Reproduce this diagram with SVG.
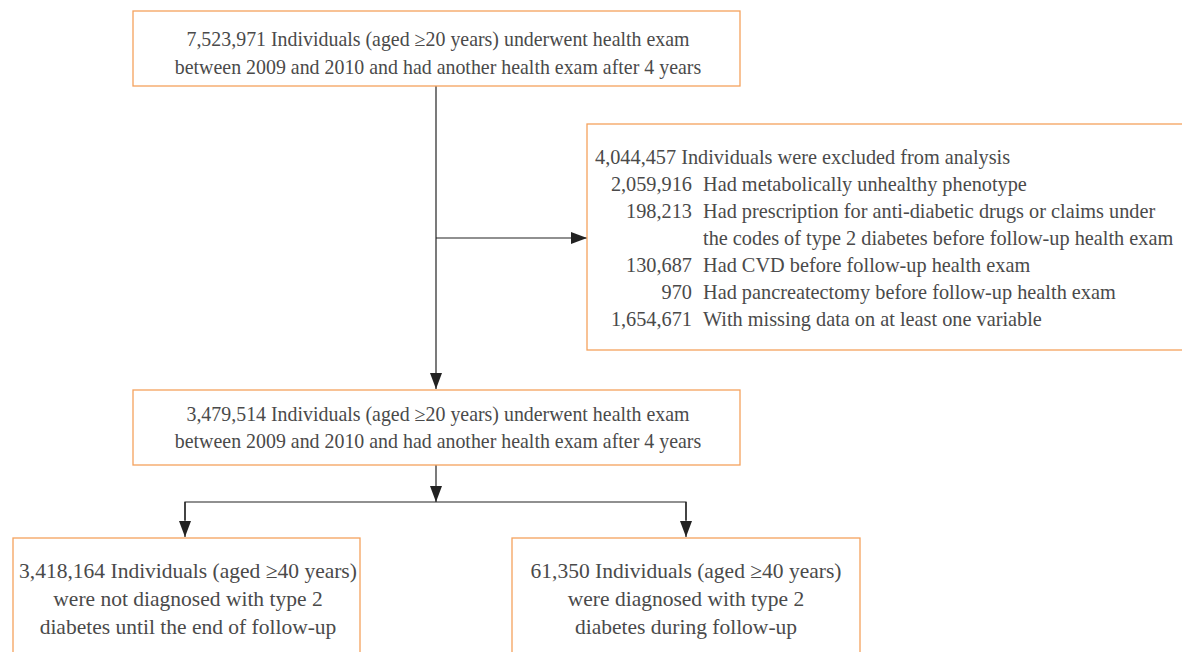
<svg xmlns="http://www.w3.org/2000/svg" width="1182" height="652" viewBox="0 0 1182 652">
<style>
.box{fill:#fff;stroke:#F5A25D;stroke-width:1.3}
.t{font-family:"Liberation Serif",serif;font-size:19.9px;fill:#4a4a4a}
.s{font-size:20.3px}
.b{font-size:21.5px}
.c{text-anchor:middle}
.r{text-anchor:end}
.ln{fill:none;stroke:#222;stroke-width:1.2}
</style>
<defs>
<marker id="ar" viewBox="0 0 16 12" refX="16" refY="6" markerWidth="16" markerHeight="12" markerUnits="userSpaceOnUse" orient="auto">
<path d="M0,0 L16,6 L0,12 z" fill="#222"/>
</marker>
</defs>
<rect width="1182" height="652" fill="#fff"/>
<g id="connectors">
<line class="ln" x1="436" y1="86" x2="436" y2="389" marker-end="url(#ar)"/>
<line class="ln" x1="436" y1="238" x2="587" y2="238" marker-end="url(#ar)"/>
<line class="ln" x1="436" y1="465" x2="436" y2="502" marker-end="url(#ar)"/>
<polyline class="ln" points="185,520 185,502 686,502 686,520"/>
<line class="ln" x1="185" y1="502" x2="185" y2="537" marker-end="url(#ar)"/>
<line class="ln" x1="686" y1="502" x2="686" y2="537" marker-end="url(#ar)"/>
</g>
<g id="node-top">
<rect class="box" x="133" y="11" width="607" height="75"/>
<text class="t c" x="438" y="46">7,523,971 Individuals (aged ≥20 years) underwent health exam</text>
<text class="t c" x="438" y="74">between 2009 and 2010 and had another health exam after 4 years</text>
</g>
<g id="node-excluded">
<rect class="box" x="587" y="124" width="600" height="226"/>
<text class="t s" x="595" y="164">4,044,457 Individuals were excluded from analysis</text>
<text class="t s r" x="692" y="191">2,059,916</text>
<text class="t s" x="703" y="191">Had metabolically unhealthy phenotype</text>
<text class="t s r" x="692" y="218">198,213</text>
<text class="t s" x="703" y="218">Had prescription for anti-diabetic drugs or claims under</text>
<text class="t s" x="703" y="245">the codes of type 2 diabetes before follow-up health exam</text>
<text class="t s r" x="692" y="272">130,687</text>
<text class="t s" x="703" y="272">Had CVD before follow-up health exam</text>
<text class="t s r" x="692" y="299">970</text>
<text class="t s" x="703" y="299">Had pancreatectomy before follow-up health exam</text>
<text class="t s r" x="692" y="326">1,654,671</text>
<text class="t s" x="703" y="326">With missing data on at least one variable</text>
</g>
<g id="node-middle">
<rect class="box" x="133" y="390" width="607" height="75"/>
<text class="t c" x="438" y="421">3,479,514 Individuals (aged ≥20 years) underwent health exam</text>
<text class="t c" x="438" y="448">between 2009 and 2010 and had another health exam after 4 years</text>
</g>
<g id="node-left">
<rect class="box" x="13" y="538" width="347" height="130"/>
<text class="t b c" x="188" y="578">3,418,164 Individuals (aged ≥40 years)</text>
<text class="t b c" x="188" y="606">were not diagnosed with type 2</text>
<text class="t b c" x="188" y="634">diabetes until the end of follow-up</text>
</g>
<g id="node-right">
<rect class="box" x="512" y="538" width="348" height="130"/>
<text class="t b c" x="686" y="578">61,350 Individuals (aged ≥40 years)</text>
<text class="t b c" x="686" y="606">were diagnosed with type 2</text>
<text class="t b c" x="686" y="634">diabetes during follow-up</text>
</g>
</svg>
